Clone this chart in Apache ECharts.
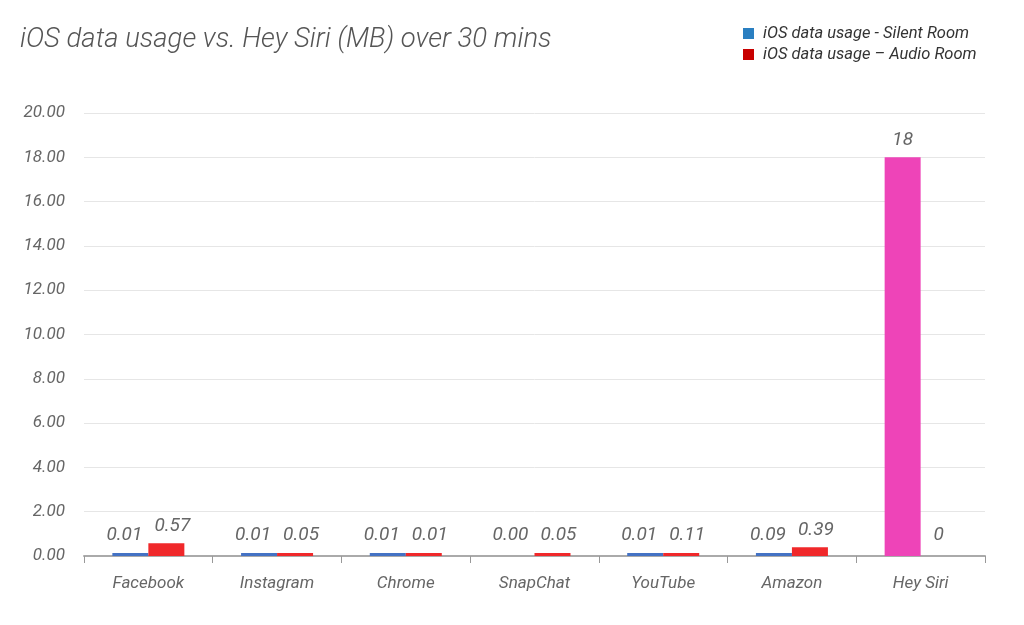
<!DOCTYPE html>
<html>
<head>
<meta charset="utf-8">
<script src="https://cdn.jsdelivr.net/npm/echarts@6/dist/echarts.min.js"></script>
<style>
  html, body { margin: 0; padding: 0; background: #fff; }
  #chart { width: 1024px; height: 625px; }
</style>
</head>
<body>
<div id="chart"></div>
<script>
// categories and values
const categories = ['Facebook', 'Instagram', 'Chrome', 'SnapChat', 'YouTube', 'Amazon', 'Hey Siri'];
const silentValues = [0.01, 0.01, 0.01, 0.00, 0.01, 0.09, 18];
const audioValues = [0.57, 0.05, 0.01, 0.05, 0.11, 0.39, 0];
const silentLabels = ['0.01', '0.01', '0.01', '0.00', '0.01', '0.09', '18'];
const audioLabels = ['0.57', '0.05', '0.01', '0.05', '0.11', '0.39', '0'];
const yTicks = [0, 2, 4, 6, 8, 10, 12, 14, 16, 18, 20];

const FONT = 'Roboto';
const GREY = '#666666';

// la barre "Hey Siri" est rose dans le graphique d'origine
// les petites étiquettes sont écartées l'une de l'autre, sauf pour Hey Siri
function buildData(values, color, last, shift) {
    return values.map((v, i) => {
        const isLast = i === values.length - 1;
        let c = color;
        if (isLast && last) c = last;
        if (v === 0) c = 'rgba(0,0,0,0)';
        return {
            value: v,
            itemStyle: { color: c },
            label: { offset: [isLast ? 0 : shift, 0] }
        };
    });
}

const labelStyle = (texts) => ({
    show: true,
    position: 'top',
    distance: 8,
    color: GREY,
    fontFamily: FONT,
    fontStyle: 'italic',
    fontSize: 19,
    formatter: (p) => texts[p.dataIndex]
});

const chart = echarts.init(document.getElementById('chart'));
chart.setOption({
    animation: false,
    title: {
        text: 'iOS data usage vs. Hey Siri (MB) over 30 mins',
        left: 15,
        top: 22,
        textStyle: {
            color: '#555555',
            fontFamily: FONT,
            fontStyle: 'italic',
            fontWeight: 300,
            fontSize: 27.5
        }
    },
    legend: {
        orient: 'vertical',
        left: 738,
        top: 20,
        itemWidth: 11,
        itemHeight: 11,
        itemGap: 4,
        icon: 'rect',
        textStyle: {
            color: '#333333',
            fontFamily: FONT,
            fontStyle: 'italic',
            fontSize: 16.5,
            padding: [0, 0, 0, 4]
        },
        data: [
            { name: 'iOS data usage - Silent Room', itemStyle: { color: '#2a7fc1' } },
            { name: 'iOS data usage \u2013 Audio Room', itemStyle: { color: '#c80000' } }
        ]
    },
    grid: { left: 84, right: 39, top: 113, bottom: 69 },
    xAxis: {
        type: 'category',
        data: categories,
        axisLine: { lineStyle: { color: '#aaaaaa', width: 2 } },
        axisTick: { show: true, length: 7, lineStyle: { color: '#999999' } },
        axisLabel: {
            color: GREY,
            fontFamily: FONT,
            fontStyle: 'italic',
            fontSize: 17,
            margin: 19
        }
    },
    yAxis: {
        type: 'value',
        min: yTicks[0],
        max: yTicks[yTicks.length - 1],
        interval: 2,
        axisLine: { show: false },
        axisTick: { show: false },
        splitLine: { lineStyle: { color: '#e6e6e6' } },
        axisLabel: {
            color: GREY,
            fontFamily: FONT,
            fontStyle: 'italic',
            fontSize: 17,
            margin: 19,
            formatter: (v) => v.toFixed(2)
        }
    },
    series: [
        {
            name: 'iOS data usage - Silent Room',
            type: 'bar',
            barWidth: 36,
            barGap: '0%',
            barMinHeight: 3,
            data: buildData(silentValues, '#4472c4', '#ee44b8', -6),
            label: labelStyle(silentLabels)
        },
        {
            name: 'iOS data usage \u2013 Audio Room',
            type: 'bar',
            barWidth: 36,
            barGap: '0%',
            barMinHeight: 3,
            data: buildData(audioValues, '#f0282a', null, 6),
            label: labelStyle(audioLabels)
        }
    ]
});
</script>
</body>
</html>
